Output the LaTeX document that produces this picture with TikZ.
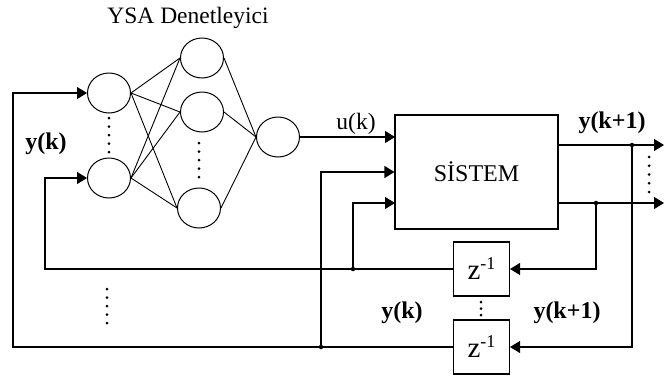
\documentclass[tikz,border=0pt]{standalone}
\usepackage{fontspec}
\setmainfont{Liberation Serif}
\usetikzlibrary{arrows.meta,shapes.geometric}
\newcommand{\zdelay}{{\fontsize{29}{29}\selectfont z\raisebox{10pt}{\fontsize{18}{18}\selectfont -1}}}
\begin{document}
\begin{tikzpicture}[x=1pt,y=-1pt,
  line width=1.1pt,
  neuron/.style={draw,ellipse,minimum width=43pt,minimum height=40pt,inner sep=0pt,line width=1pt},
  block/.style={draw,rectangle,inner sep=0pt,line width=1.1pt},
  txt/.style={font=\fontsize{23.5}{23.5}\selectfont,inner sep=0pt},
  btxt/.style={font=\fontsize{24}{24}\selectfont\bfseries,inner sep=0pt},
  syn/.style={line width=0.9pt},
  sig/.style={-{Triangle[length=10pt,width=12pt]}},
  junc/.style={circle,fill,inner sep=0pt,minimum size=4.5pt},
  vdot/.style={fill},
]
\useasboundingbox (0,0) rectangle (664,376);

% neural network controller
\node[txt] (title) at (188,18) {YSA Denetleyici};
\node[neuron] (i1) at (109,93) {};
\node[neuron] (i2) at (109,178) {};
\node[neuron] (h1) at (202,58) {};
\node[neuron] (h2) at (202,112) {};
\node[neuron] (h3) at (199,208) {};
\node[neuron] (o) at (278,137) {};

\foreach \a in {i1,i2}
  \foreach \b in {h1,h2,h3}
    \draw[syn] (\a.east) -- (\b.west);
\foreach \b in {h1,h2,h3}
  \draw[syn] (\b.east) -- (o.west);

% plant and delay blocks
\node[block,minimum width=163pt,minimum height=114pt,font=\fontsize{24}{24}\selectfont] (sys) at (476.5,172) {SİSTEM};
\node[block,minimum width=56pt,minimum height=54pt] (zA) at (481.5,269) {\zdelay};
\node[block,minimum width=56pt,minimum height=54pt] (zB) at (481.5,347) {\zdelay};

% labels
\node[txt] (uk) at (356,124) {u(k)};
\node[btxt] (ykA) at (46,144) {y(k)};
\node[btxt] (yk1A) at (612,123) {y(k+1)};
\node[btxt] (ykB) at (402,313) {y(k)};
\node[btxt] (yk1B) at (567,313) {y(k+1)};

% corner and port coordinates
\coordinate (cBL) at (13,347);
\coordinate (cTL) at (13,93);
\coordinate (c2B) at (45,269);
\coordinate (c2T) at (45,178);
\coordinate (sin1) at (395,137);
\coordinate (sin3) at (395,203);
\coordinate (sout1) at (558,145);
\coordinate (sout2) at (558,203);
\coordinate (e1) at (664,145);
\coordinate (e2) at (664,203);

% junctions
\node[junc] (j1) at (321,347) {};
\node[junc] (j2) at (353,269) {};
\node[junc] (j3) at (632,145) {};
\node[junc] (j4) at (596,203) {};

% signal lines
\draw[sig] (o.east) -- (sin1);
\draw[sig] (zB.west) -- (cBL) -- (cTL) -- (i1.west);
\draw[sig] (zA.west) -- (c2B) -- (c2T) -- (i2.west);
\draw[sig] (j1.center) |- (sys.west);
\draw[sig] (j2.center) |- (sin3);
\draw[sig] (sout1) -- (e1);
\draw[sig] (sout2) -- (e2);
\draw[sig] (j3.center) |- (zB.east);
\draw[sig] (j4.center) |- (zA.east);

% ellipsis dots
\foreach \y in {118,126.5,135,143.5,152} \fill[vdot] (109,\y) circle (1.5);
\foreach \y in {143,151.5,160,168.5,177} \fill[vdot] (199,\y) circle (1.5);
\foreach \y in {289,297.5,306,314.5,323} \fill[vdot] (107,\y) circle (1.5);
\foreach \y in {157,165.75,174.5,183.25,192} \fill[vdot] (649,\y) circle (1.5);
\foreach \y in {302,308.5,315} \fill[vdot] (481,\y) circle (1.5);
\end{tikzpicture}
\end{document}
